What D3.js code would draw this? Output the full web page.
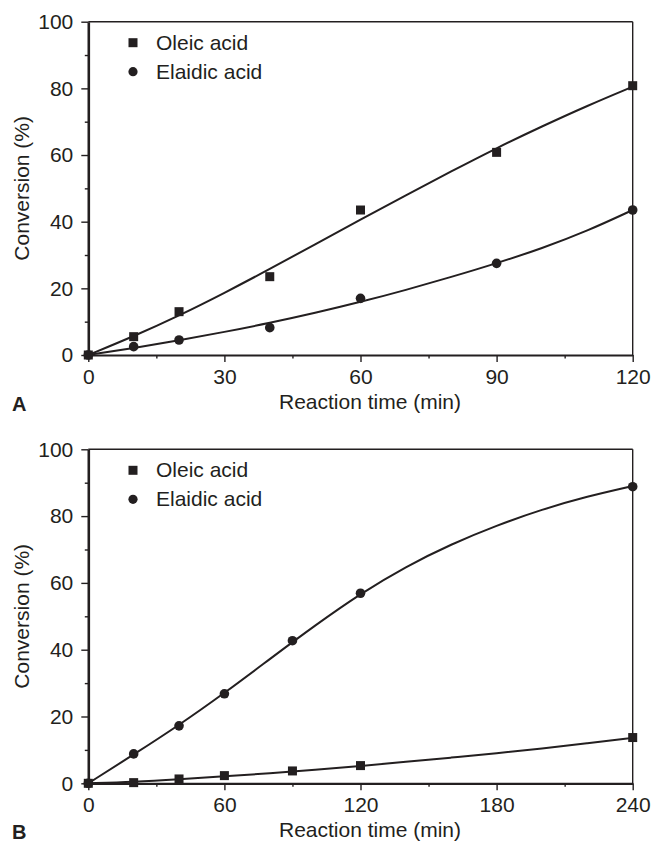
<!DOCTYPE html>
<html lang="en">
<head>
<meta charset="UTF-8">
<title>Conversion vs reaction time</title>
<script src="https://d3js.org/d3.v7.min.js"></script>
<style>
  body { margin: 0; background: #fff; }
  text { font-family: "Liberation Sans", Arial, sans-serif; fill: #231f20; }
</style>
</head>
<body>
<script>

    // panel A : measured points
    var timeA = [0, 10, 20, 40, 60, 90, 120];
    var oleicA = [0, 5.5, 13.0, 23.5, 43.5, 60.8, 80.8];
    var elaidicA = [0, 2.5, 4.5, 8.2, 17.0, 27.5, 43.5];
    // panel A : fitted curves
    var fitTimeA = [0, 10, 20, 30, 40, 50, 60, 70, 80, 90, 100, 110, 120];
    var oleicFitA = [0, 5.6, 11.8, 18.6, 25.8, 33.2, 40.6, 47.9, 55.1, 62.1, 68.6, 74.8, 80.5];
    var elaidicFitA = [0, 2.1, 4.4, 6.9, 9.6, 12.6, 15.9, 19.5, 23.4, 27.5, 32.0, 37.2, 43.5];

    // panel B : measured points
    var timeB = [0, 20, 40, 60, 90, 120, 240];
    var oleicB = [0, 0.2, 1.3, 2.3, 3.7, 5.3, 13.7];
    var elaidicB = [0, 8.8, 17.2, 26.8, 42.7, 56.9, 88.8];
    // panel B : fitted curves
    var fitTimeB = [0, 20, 40, 60, 80, 100, 120, 140, 160, 180, 200, 220, 240];
    var oleicFitB = [0, 0.4, 1.2, 2.1, 3.0, 4.0, 5.2, 6.4, 7.7, 9.0, 10.4, 12.0, 13.6];
    var elaidicFitB = [0, 8.6, 17.4, 27.0, 37.2, 47.3, 56.8, 64.9, 71.6, 77.2, 82.0, 85.9, 89.0];

    var yTicks = [0, 20, 40, 60, 80, 100];
    var yMinor = [10, 30, 50, 70, 90];
    var xTicksA = [0, 30, 60, 90, 120];
    var xMinorA = [15, 45, 75, 105];
    var xTicksB = [0, 60, 120, 180, 240];
    var xMinorB = [30, 90, 150, 210];
    var seriesNames = ["Oleic acid", "Elaidic acid"];

    var ink = "#231f20";
    var svg = d3.select("body").append("svg")
        .attr("width", 656)
        .attr("height", 843);

    function panel(opt) {
        var left = 88.3, right = 632.7;
        var x = d3.scaleLinear().domain([0, opt.xMax]).range([left, right]);
        var y = d3.scaleLinear().domain([0, 100]).range([opt.bottom, opt.top]);
        var g = svg.append("g");

        // frame: top and right
        g.append("line").attr("x1", x(0)).attr("x2", x(opt.xMax))
            .attr("y1", y(100)).attr("y2", y(100))
            .attr("stroke", ink).attr("stroke-width", 1.4);
        g.append("line").attr("x1", x(opt.xMax)).attr("x2", x(opt.xMax))
            .attr("y1", y(100)).attr("y2", y(0))
            .attr("stroke", ink).attr("stroke-width", 1.4);

        // minor ticks
        g.append("g").attr("transform", "translate(" + left + ",0)")
            .call(d3.axisLeft(y).tickValues(yMinor).tickSize(3.5).tickFormat(""))
            .call(function (s) { s.select(".domain").remove(); });
        g.append("g").attr("transform", "translate(0," + opt.bottom + ")")
            .call(d3.axisBottom(x).tickValues(opt.xMinor).tickSize(3.5).tickFormat(""))
            .call(function (s) { s.select(".domain").remove(); });

        // major axes
        var ya = g.append("g").attr("transform", "translate(" + left + ",0)")
            .call(d3.axisLeft(y).tickValues(yTicks).tickSize(7).tickSizeOuter(0).tickPadding(8));
        ya.select(".domain").attr("stroke-width", 2.6);
        var xa = g.append("g").attr("transform", "translate(0," + opt.bottom + ")")
            .call(d3.axisBottom(x).tickValues(opt.xTicks).tickSize(7).tickSizeOuter(0).tickPadding(7));
        xa.select(".domain").attr("stroke-width", 2.2);
        g.selectAll(".tick line").attr("stroke", ink).attr("stroke-width", 1.4);
        g.selectAll(".domain").attr("stroke", ink);
        g.selectAll(".tick text").attr("font-size", 21)
            .attr("font-family", "Liberation Sans, Arial, sans-serif").attr("fill", ink);

        // axis titles
        g.append("text").attr("x", 370).attr("y", opt.bottom + 54)
            .attr("text-anchor", "middle").attr("font-size", 21)
            .text("Reaction time (min)");
        g.append("text")
            .attr("transform", "translate(29," + ((opt.top + opt.bottom) / 2) + ") rotate(-90)")
            .attr("text-anchor", "middle").attr("font-size", 21)
            .text("Conversion (%)");
        g.append("text").attr("x", 12).attr("y", opt.bottom + 56)
            .attr("font-size", 20).attr("font-weight", "bold")
            .text(opt.letter);

        // fitted curves
        var line = d3.line()
            .x(function (d) { return x(d[0]); })
            .y(function (d) { return y(d[1]); })
            .curve(d3.curveBasis);
        [opt.oleicFit, opt.elaidicFit].forEach(function (vals) {
            g.append("path")
                .datum(opt.fitTime.map(function (t, i) { return [t, vals[i]]; }))
                .attr("d", line)
                .attr("fill", "none").attr("stroke", ink).attr("stroke-width", 2);
        });

        // points
        var sq = 9;
        g.selectAll("rect.pt").data(opt.time.map(function (t, i) { return [t, opt.oleic[i]]; }))
            .enter().append("rect").attr("class", "pt")
            .attr("x", function (d) { return x(d[0]) - sq / 2; })
            .attr("y", function (d) { return y(d[1]) - sq / 2; })
            .attr("width", sq).attr("height", sq).attr("fill", ink);
        g.selectAll("circle.pt").data(opt.time.map(function (t, i) { return [t, opt.elaidic[i]]; }))
            .enter().append("circle").attr("class", "pt")
            .attr("cx", function (d) { return x(d[0]); })
            .attr("cy", function (d) { return y(d[1]); })
            .attr("r", 4.8).attr("fill", ink);

        // legend
        var ly = opt.top + 21;
        g.append("rect").attr("x", 133 - sq / 2).attr("y", ly - sq / 2)
            .attr("width", sq).attr("height", sq).attr("fill", ink);
        g.append("circle").attr("cx", 133).attr("cy", ly + 29).attr("r", 4.6).attr("fill", ink);
        seriesNames.forEach(function (name, i) {
            g.append("text").attr("x", 156).attr("y", ly + 7 + i * 29)
                .attr("font-size", 21).text(name);
        });
    }

    panel({
        top: 21.7, bottom: 355, xMax: 120, letter: "A",
        xTicks: xTicksA, xMinor: xMinorA,
        time: timeA, oleic: oleicA, elaidic: elaidicA,
        fitTime: fitTimeA, oleicFit: oleicFitA, elaidicFit: elaidicFitA
    });
    panel({
        top: 449.3, bottom: 783.3, xMax: 240, letter: "B",
        xTicks: xTicksB, xMinor: xMinorB,
        time: timeB, oleic: oleicB, elaidic: elaidicB,
        fitTime: fitTimeB, oleicFit: oleicFitB, elaidicFit: elaidicFitB
    });

</script>
</body>
</html>
